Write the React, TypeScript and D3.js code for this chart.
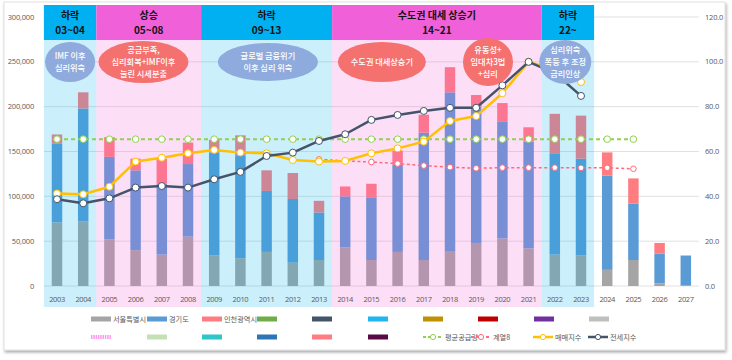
import React from "react";
import * as d3 from "d3";

// categories
const YEARS = [
  "2003", "2004", "2005", "2006", "2007", "2008", "2009", "2010", "2011",
  "2012", "2013", "2014", "2015", "2016", "2017", "2018", "2019", "2020",
  "2021", "2022", "2023", "2024", "2025", "2026", "2027",
];

// 입주물량 (stacked bars, left axis)
const SEOUL = [
  71000, 72000, 52000, 40000, 35000, 55000, 34000, 31000, 38000, 26000, 29000,
  43000, 29000, 38000, 29000, 39000, 48000, 53000, 42000, 35000, 34000, 18000,
  29000, 3000, 1000,
];
const GYEONGGI = [
  88000, 126000, 92000, 89000, 79000, 81000, 115000, 114000, 68000, 71000,
  53000, 57000, 70000, 97000, 142000, 177000, 152000, 130000, 119000, 113000,
  108000, 105000, 63000, 33000, 33000,
];
const INCHEON = [
  10000, 18000, 22000, 13000, 28000, 24000, 14000, 23000, 23000, 29000, 13000,
  11000, 15000, 16000, 20000, 28000, 13000, 21000, 16000, 44000, 48000, 26000,
  28000, 12000, 0,
];

// index lines (right axis)
const AVG_SUPPLY = [
  65.5, 65.5, 65.5, 65.5, 65.5, 65.5, 65.5, 65.5, 65.5, 65.5, 65.5, 65.5, 65.5,
  65.5, 65.5, 65.5, 65.5, 65.5, 65.5, 65.5, 65.5, 65.5, 65.5, null, null,
];
const SERIES8 = [
  null, null, null, null, null, null, null, null, null, null, 56.5, 55.8, 55.3,
  54.6, 53.7, 53.0, 52.5, 52.8, 52.8, 52.8, 52.7, 52.7, 52.3, null, null,
];
const SALE_INDEX = [
  41.3, 40.9, 44.3, 55.5, 57.2, 59.2, 60.7, 59.5, 59.2, 56.2, 55.5, 55.8, 59.2,
  61.4, 64.4, 73.6, 75.8, 86.0, 100.0, 96.5, 91.0, null, null, null, null,
];
const JEONSE_INDEX = [
  38.7, 36.9, 39.1, 43.9, 44.6, 43.9, 47.6, 50.9, 58.0, 59.5, 64.7, 67.7, 74.1,
  76.3, 78.1, 79.5, 79.5, 89.5, 100.0, 95.0, 84.8, null, null, null, null,
];

const LEFT_TICKS = [0, 50000, 100000, 150000, 200000, 250000, 300000];
const RIGHT_TICKS = [0, 20, 40, 60, 80, 100, 120];

// 국면 구분
const PERIOD_FROM = ["2003", "2005", "2009", "2014", "2022"];
const PERIOD_TO = ["2004", "2008", "2013", "2021", "2023"];
const PERIOD_TITLE = ["하락", "상승", "하락", "수도권 대세 상승기", "하락"];
const PERIOD_RANGE = ["03~04", "05~08", "09~13", "14~21", "22~"];
const PERIOD_UP = [false, true, false, true, false];

// 말풍선
const NOTE_YEAR = ["2003", "2006", "2011", "2015", "2019", "2022"];
const NOTE_TEXT = [
  ["IMF 이후", "심리위축"],
  ["공급부족,", "심리회복+IMF이후", "눌린 시세분출"],
  ["글로벌 금융위기", "이후 심리 위축"],
  ["수도권 대세상승기"],
  ["유동성+", "임대차3법", "+심리"],
  ["심리위축", "폭등 후 조정", "금리인상"],
];
const NOTE_UP = [false, true, false, true, true, false];

// layout / style
const W = 732;
const H = 360;
const PLOT = { left: 43.9, right: 698.9, top: 17, bottom: 286 };
const BAND_TOP = 40;
const BAND_BOTTOM = 307;
const NOTE_GEOM = [
  { dx: 0.5, rx: 25, ry: 20 },
  { dx: 0.3, rx: 45, ry: 21 },
  { dx: 0.05, rx: 50, ry: 19 },
  { dx: 0.4, rx: 44, ry: 20 },
  { dx: 0.45, rx: 25, ry: 24 },
  { dx: 0.4, rx: 26, ry: 22 },
];

const C_SEOUL = "#a5a5a5";
const C_GG = "#5b9bd5";
const C_IC = "#ff7c80";
const C_CYAN = "#00b0f0";
const C_MAG = "#f060d8";
const C_GREEN = "#92d050";
const C_RED = "#ff6b7a";
const C_ORANGE = "#ffc000";
const C_NAVY = "#44546a";
const C_NOTE_BLUE = "#8faadc";
const C_NOTE_RED = "#f4716f";
const TXT = "#595959";
const NUM_FONT = "'Open Sans', 'Noto Sans', sans-serif";
const KR_FONT = "'Noto Sans CJK KR', 'Noto Sans', sans-serif";

export default function App() {
  const x = d3.scaleBand<string>().domain(YEARS).range([PLOT.left, PLOT.right]);
  const step = x.step();
  const cx = (y: string) => (x(y) as number) + step / 2;
  const barW = step * 0.4;

  const yL = d3.scaleLinear().domain([0, 300000]).range([PLOT.bottom, PLOT.top]);
  const yR = d3.scaleLinear().domain([0, 120]).range([PLOT.bottom, PLOT.top]);

  const rows = YEARS.map((y, i) => ({
    year: y,
    seoul: SEOUL[i],
    gyeonggi: GYEONGGI[i],
    incheon: INCHEON[i],
  }));
  const stacked = d3
    .stack<any>()
    .keys(["seoul", "gyeonggi", "incheon"])(rows);
  const barColors = [C_SEOUL, C_GG, C_IC];

  const line = d3
    .line<number | null>()
    .defined((d) => d != null)
    .x((_, i) => cx(YEARS[i]))
    .y((d) => yR(d as number));

  const lineSeries = [
    { values: AVG_SUPPLY, color: C_GREEN, width: 2, dash: "4,3", r: 3.3 },
    { values: SERIES8, color: C_RED, width: 1.5, dash: "3,2.5", r: 2.8 },
    { values: SALE_INDEX, color: C_ORANGE, width: 2.5, dash: undefined, r: 3.5 },
    { values: JEONSE_INDEX, color: C_NAVY, width: 2.5, dash: undefined, r: 3.5 },
  ];

  const legendRow1 = [
    { x: 91, label: "서울특별시", kind: "rect", color: C_SEOUL },
    { x: 147, label: "경기도", kind: "rect", color: C_GG },
    { x: 202, label: "인천광역시", kind: "rect", color: C_IC },
    { x: 257, label: "", kind: "rect", color: "#70ad47" },
    { x: 312, label: "", kind: "rect", color: "#44546a" },
    { x: 368, label: "", kind: "rect", color: "#21b6f0" },
    { x: 423, label: "", kind: "rect", color: "#bf9000" },
    { x: 478, label: "", kind: "rect", color: "#c00000" },
    { x: 534, label: "", kind: "rect", color: "#7030a0" },
    { x: 589, label: "", kind: "rect", color: "#bfbfbf" },
  ];
  const legendRow2 = [
    { x: 91, label: "", kind: "dotted", color: "#ff99f0" },
    { x: 147, label: "", kind: "rect", color: "#c5e0b4" },
    { x: 202, label: "", kind: "rect", color: "#2fc6c8" },
    { x: 257, label: "", kind: "rect", color: "#2e75b6" },
    { x: 312, label: "", kind: "rect", color: "#ff7c80" },
    { x: 368, label: "", kind: "rect", color: "#5a0a45" },
    { x: 423, label: "평균공급량", kind: "dash", color: C_GREEN },
    { x: 471, label: "계열8", kind: "dash", color: C_RED },
    { x: 533, label: "매매지수", kind: "line", color: C_ORANGE },
    { x: 588, label: "전세지수", kind: "line", color: C_NAVY },
  ];

  const renderLegend = (items: any[], yy: number) =>
    items.map((it, i) => (
      <g key={i}>
        {it.kind === "rect" && (
          <rect x={it.x} y={yy - 2.5} width={20} height={5} fill={it.color} />
        )}
        {it.kind === "dotted" && (
          <line x1={it.x} x2={it.x + 20} y1={yy} y2={yy} stroke={it.color}
            strokeWidth={4} strokeDasharray="1.5,0.8" />
        )}
        {(it.kind === "dash" || it.kind === "line") && (
          <g>
            <line x1={it.x} x2={it.x + 20} y1={yy} y2={yy} stroke={it.color}
              strokeWidth={it.kind === "line" ? 2.5 : 1.8}
              strokeDasharray={it.kind === "dash" ? "3,2" : undefined} />
            <circle cx={it.x + 10} cy={yy} r={2.6} fill="#fff" stroke={it.color} strokeWidth={1} />
          </g>
        )}
        {it.label && (
          <text x={it.x + 22} y={yy} dy="0.35em" fontSize={7.2} fill={TXT} fontFamily={KR_FONT}>
            {it.label}
          </text>
        )}
      </g>
    ));

  return (
    <div style={{ position: "absolute", left: 0, top: 0 }}>
      <svg width={W} height={H} style={{ display: "block" }}>
        <defs>
          <filter id="shadow" x="-5%" y="-5%" width="110%" height="115%">
            <feDropShadow dx="1" dy="2" stdDeviation="1.8" floodColor="#000" floodOpacity="0.35" />
          </filter>
        </defs>
        <rect x={0} y={0} width={W} height={H} fill="#fff" />
        <rect x={4} y={2} width={721} height={348} fill="#fff" stroke="#d9d9d9"
          strokeWidth={0.8} filter="url(#shadow)" />

        {/* gridlines */}
        {LEFT_TICKS.map((t) => (
          <line key={t} x1={PLOT.left} x2={PLOT.right} y1={yL(t)} y2={yL(t)}
            stroke="#d9d9d9" strokeWidth={0.8} />
        ))}

        {/* stacked bars */}
        {stacked.map((layer, li) => (
          <g key={layer.key} fill={barColors[li]}>
            {layer.map((d, i) => (
              <rect key={i} x={cx(YEARS[i]) - barW / 2} y={yL(d[1])} width={barW}
                height={Math.max(0, yL(d[0]) - yL(d[1]))} />
            ))}
          </g>
        ))}

        {/* period bands (translucent over bars) */}
        {PERIOD_FROM.map((from, i) => {
          const x0 = x(from) as number;
          const x1 = (x(PERIOD_TO[i]) as number) + step;
          const col = PERIOD_UP[i] ? C_MAG : C_CYAN;
          return (
            <g key={i}>
              <rect x={x0} y={BAND_TOP} width={x1 - x0} height={BAND_BOTTOM - BAND_TOP}
                fill={col} fillOpacity={0.2} />
              <rect x={x0} y={5} width={x1 - x0} height={BAND_TOP - 5} fill={col} />
              <text x={(x0 + x1) / 2} y={15.5} textAnchor="middle" dy="0.35em"
                fontSize={10} fontWeight={700} fontFamily={KR_FONT} fill="#111">
                <tspan x={(x0 + x1) / 2}>{PERIOD_TITLE[i]}</tspan>
                <tspan x={(x0 + x1) / 2} dy={14.6}>{PERIOD_RANGE[i]}</tspan>
              </text>
            </g>
          );
        })}

        {/* axes labels */}
        {LEFT_TICKS.map((t) => (
          <text key={t} x={34} y={yL(t)} dy="0.35em" textAnchor="end" fontSize={7.5}
            letterSpacing={-0.2} fill={TXT} fontFamily={NUM_FONT}>
            {d3.format(",")(t)}
          </text>
        ))}
        {RIGHT_TICKS.map((t) => (
          <text key={t} x={705} y={yR(t)} dy="0.35em" fontSize={7.5} letterSpacing={-0.2}
            fill={TXT} fontFamily={NUM_FONT}>
            {d3.format(".1f")(t)}
          </text>
        ))}
        {YEARS.map((y) => (
          <text key={y} x={cx(y)} y={299} dy="0.35em" textAnchor="middle" fontSize={7.5}
            letterSpacing={-0.4} fill={TXT} fontFamily={NUM_FONT}>
            {y}
          </text>
        ))}

        {/* lines */}
        {lineSeries.map((s, si) => (
          <g key={si}>
            <path d={line(s.values) || ""} fill="none" stroke={s.color} strokeWidth={s.width}
              strokeDasharray={s.dash} strokeLinejoin="round" />
            {s.values.map((v, i) =>
              v == null ? null : (
                <circle key={i} cx={cx(YEARS[i])} cy={yR(v)} r={s.r} fill="#fff"
                  stroke={s.color} strokeWidth={1} />
              )
            )}
          </g>
        ))}

        {/* notes */}
        {NOTE_YEAR.map((yr, i) => {
          const g = NOTE_GEOM[i];
          const ncx = cx(yr) + g.dx * step;
          const ncy = 62;
          const lines = NOTE_TEXT[i];
          const lh = 11.9;
          return (
            <g key={i}>
              <ellipse cx={ncx} cy={ncy} rx={g.rx} ry={g.ry}
                fill={NOTE_UP[i] ? C_NOTE_RED : C_NOTE_BLUE} />
              <text x={ncx} y={ncy - ((lines.length - 1) / 2) * lh} textAnchor="middle"
                fontSize={8.2} fontWeight={500} fill="#fff" fontFamily={KR_FONT}>
                {lines.map((t, li) => (
                  <tspan key={li} x={ncx} dy={li === 0 ? "0.35em" : lh}>
                    {t}
                  </tspan>
                ))}
              </text>
            </g>
          );
        })}

        {/* legend */}
        {renderLegend(legendRow1, 319)}
        {renderLegend(legendRow2, 337)}
      </svg>
    </div>
  );
}
